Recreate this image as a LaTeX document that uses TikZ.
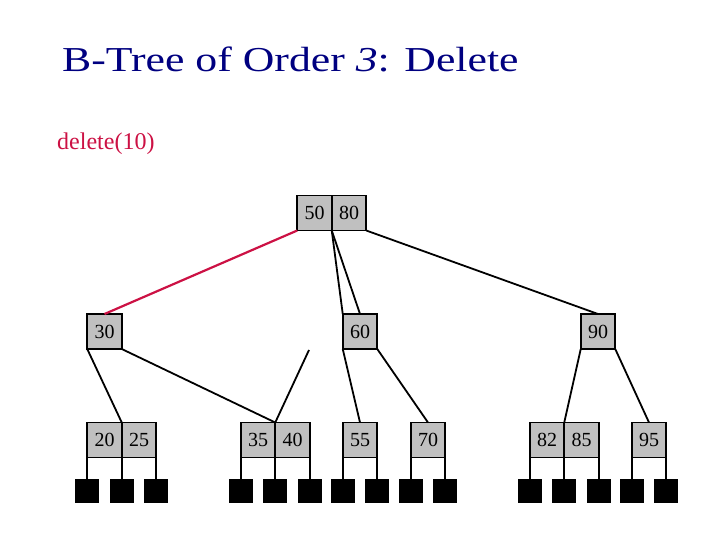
\documentclass[tikz,border=0pt]{standalone}
\usepackage{fontspec}
\usepackage{graphicx}
\setmainfont{Liberation Serif}
\definecolor{titleblue}{HTML}{000080}
\definecolor{delred}{HTML}{CC1144}
\definecolor{keygray}{HTML}{C0C0C0}
\begin{document}
\begin{tikzpicture}[x=1pt,y=-1pt,
  key/.style={draw=black,fill=keygray,line width=1.8pt,outer sep=0pt,minimum width=34.5pt,minimum height=35pt,inner sep=0pt,font=\fontsize{20}{24}\selectfont},
  leafsq/.style={fill=black,outer sep=0pt,minimum width=24pt,minimum height=24pt,inner sep=0pt},
  edge/.style={line width=1.8pt,black},
  rededge/.style={line width=2.2pt,delred}]
\useasboundingbox (0,0) rectangle (720,540);
% title
\node[anchor=base west,inner sep=0pt,text=titleblue] (title) at (62,72)
  {\scalebox{1.25}[1]{\fontsize{35}{40}\selectfont B-Tree of Order \textit{3}: Delete}};
\node[anchor=base west,inner sep=0pt,text=delred,font=\fontsize{24}{28}\selectfont] (op) at (57,150) {delete(10)};
% root
\node[key] (r1) at (314.5,213) {50};
\node[key] (r2) at (349,213) {80};
% level 2
\node[key] (n30) at (104.5,331.5) {30};
\node[key] (n60) at (360,331.5) {60};
\node[key] (n90) at (598,331.5) {90};
% leaves
\node[key] (l20) at (104.5,440) {20};
\node[key] (l25) at (139,440) {25};
\node[key] (l35) at (258,440) {35};
\node[key] (l40) at (292.5,440) {40};
\node[key] (l55) at (360,440) {55};
\node[key] (l70) at (428,440) {70};
\node[key] (l82) at (547,440) {82};
\node[key] (l85) at (581.5,440) {85};
\node[key] (l95) at (649,440) {95};
% external squares
\foreach \n/\x in {s1/87.25,s2/121.75,s3/156.25,s4/240.75,s5/275.25,s6/309.75,s7/342.75,s8/377.25,s9/410.75,s10/445.25,s11/529.75,s12/564.25,s13/598.75,s14/631.75,s15/666.25}
  \node[leafsq] (\n) at (\x,491) {};
% leaf to square lines
\draw[edge] (l20.south west) -- (s1.north);
\draw[edge] (l20.south east) -- (s2.north);
\draw[edge] (l25.south east) -- (s3.north);
\draw[edge] (l35.south west) -- (s4.north);
\draw[edge] (l35.south east) -- (s5.north);
\draw[edge] (l40.south east) -- (s6.north);
\draw[edge] (l55.south west) -- (s7.north);
\draw[edge] (l55.south east) -- (s8.north);
\draw[edge] (l70.south west) -- (s9.north);
\draw[edge] (l70.south east) -- (s10.north);
\draw[edge] (l82.south west) -- (s11.north);
\draw[edge] (l82.south east) -- (s12.north);
\draw[edge] (l85.south east) -- (s13.north);
\draw[edge] (l95.south west) -- (s14.north);
\draw[edge] (l95.south east) -- (s15.north);
% tree edges
\draw[rededge] (r1.south west) -- (n30.north);
\draw[edge] (r1.south east) -- (n60.north west);
\draw[edge] (r1.south east) -- (n60.north);
\draw[edge] (r2.south east) -- (n90.north);
\draw[edge] (n30.south west) -- (l20.north east);
\draw[edge] (n30.south east) -- (l35.north east);
\coordinate (stray) at (309,350);
\draw[edge] (stray) -- (l35.north east);
\draw[edge] (n60.south west) -- (l55.north);
\draw[edge] (n60.south east) -- (l70.north);
\draw[edge] (n90.south west) -- (l82.north east);
\draw[edge] (n90.south east) -- (l95.north);
\end{tikzpicture}
\end{document}
